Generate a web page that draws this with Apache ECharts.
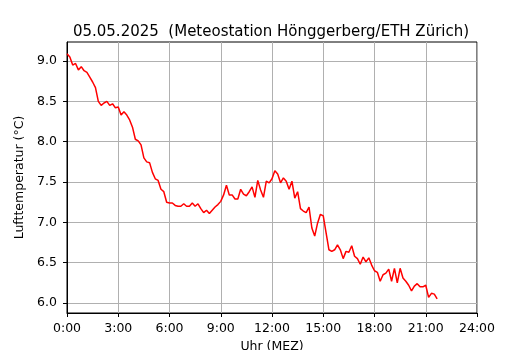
<!DOCTYPE html>
<html>
<head>
<meta charset="utf-8">
<script src="https://cdn.jsdelivr.net/npm/echarts@6/dist/echarts.min.js"></script>
<style>
  html, body { margin: 0; padding: 0; background: #fff; }
  #charts { width: 530px; height: 350px; }
</style>
</head>
<body>
<div id="charts"></div>
<script>
// Messwerte alle 10 Minuten ab 0:00
var stepMinutes = 10;
var temps = [
  9.09, 9.05, 8.95, 8.97, 8.89, 8.93, 8.88, 8.86, 8.80, 8.74, 8.67, 8.50,
  8.45, 8.48, 8.50, 8.45, 8.47, 8.42, 8.43, 8.33, 8.37, 8.33, 8.27, 8.18,
  8.03, 8.01, 7.96, 7.80, 7.75, 7.74, 7.62, 7.54, 7.52, 7.41, 7.38, 7.25,
  7.24, 7.24, 7.21, 7.20, 7.20, 7.23, 7.20, 7.20, 7.24, 7.20, 7.23, 7.17,
  7.12, 7.15, 7.11, 7.15, 7.19, 7.22, 7.26, 7.34, 7.46, 7.34, 7.34, 7.29,
  7.29, 7.41, 7.35, 7.33, 7.38, 7.44, 7.31, 7.52, 7.40, 7.31, 7.51, 7.49,
  7.54, 7.64, 7.60, 7.49, 7.55, 7.51, 7.41, 7.51, 7.30, 7.38, 7.17, 7.14,
  7.12, 7.19, 6.93, 6.83, 6.99, 7.10, 7.08, 6.87, 6.66, 6.64, 6.66, 6.72,
  6.66, 6.55, 6.64, 6.63, 6.71, 6.58, 6.55, 6.48, 6.57, 6.51, 6.56, 6.47,
  6.40, 6.38, 6.27, 6.35, 6.37, 6.42, 6.27, 6.43, 6.25, 6.43, 6.31, 6.27,
  6.22, 6.15, 6.21, 6.24, 6.20, 6.20, 6.22, 6.07, 6.12, 6.11, 6.05
];
var yTicks = [6.0, 6.5, 7.0, 7.5, 8.0, 8.5, 9.0];

var seriesData = temps.map(function (v, i) {
  return [i * stepMinutes / 60, v];
});

var chartDom = document.getElementById('charts');
var myChart = echarts.init(chartDom);
var font = 'DejaVu Sans';

var option = {
  animation: false,
  backgroundColor: '#fff',
  title: {
    text: '05.05.2025  (Meteostation Hönggerberg/ETH Zürich)',
    left: 266,
    textAlign: 'center',
    top: 20,
    textStyle: { fontFamily: font, fontSize: 15, fontWeight: 'normal', color: '#000' }
  },
  grid: {
    left: 67, right: 53, top: 42, bottom: 37,
    outerBoundsMode: 'none',
    show: true, borderColor: '#000', borderWidth: 1, backgroundColor: 'transparent'
  },
  xAxis: {
    type: 'value',
    min: 0, max: 24, interval: 3,
    name: 'Uhr (MEZ)',
    nameLocation: 'middle',
    nameGap: 24,
    nameTextStyle: { fontFamily: font, fontSize: 12.5, color: '#000' },
    axisLine: { show: true, lineStyle: { color: '#000', width: 1 } },
    axisTick: { show: true, inside: false, length: 4, lineStyle: { color: '#000' } },
    axisLabel: {
      fontFamily: font, fontSize: 12.5, color: '#000', margin: 9,
      formatter: function (v) { return v + ':00'; }
    },
    splitLine: { show: true, lineStyle: { color: '#b0b0b0', width: 1 } }
  },
  yAxis: {
    type: 'value',
    min: 5.876, max: 9.236,
    name: 'Lufttemperatur (°C)',
    nameLocation: 'middle',
    nameGap: 39,
    nameTextStyle: { fontFamily: font, fontSize: 12.5, color: '#000' },
    axisLine: { show: true, lineStyle: { color: '#000', width: 1 } },
    axisTick: { show: true, length: 4, lineStyle: { color: '#000' }, customValues: yTicks },
    axisLabel: {
      fontFamily: font, fontSize: 12.5, color: '#000', margin: 10,
      customValues: yTicks,
      formatter: function (v) { return v.toFixed(1); }
    },
    splitLine: { show: true, lineStyle: { color: '#b0b0b0', width: 1 } }
  },
  series: [
    {
      type: 'line',
      data: seriesData,
      showSymbol: false,
      lineStyle: { color: '#ff0000', width: 1.5 },
      itemStyle: { color: '#ff0000' }
    }
  ]
};

option && myChart.setOption(option);
</script>
</body>
</html>
